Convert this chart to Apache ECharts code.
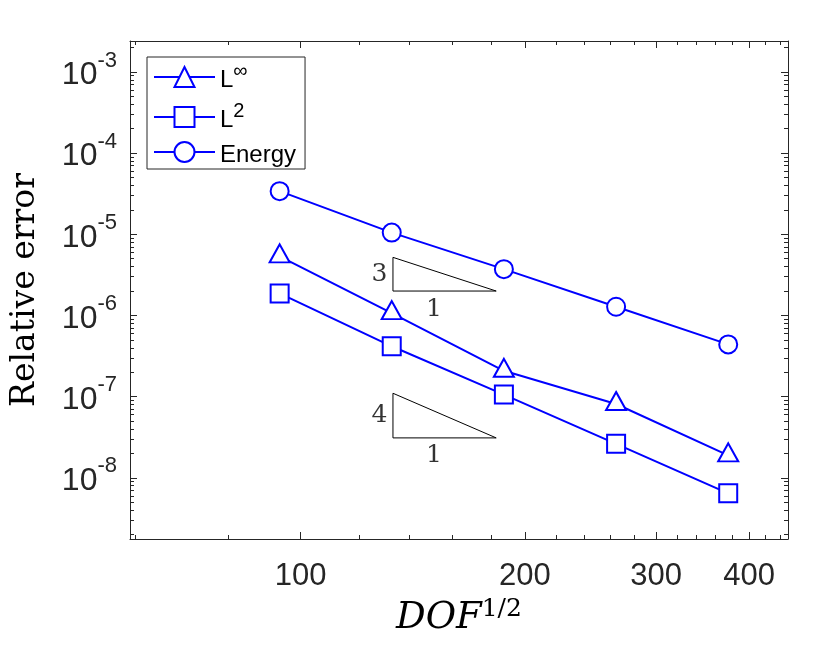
<!DOCTYPE html>
<html><head><meta charset="utf-8">
<script src="https://cdn.jsdelivr.net/npm/echarts@6/dist/echarts.min.js"></script>
<style>html,body{margin:0;padding:0;background:#fff}#c{width:831px;height:657px}</style>
</head><body><div id="c"></div>
<script>
// ---- data ----
const seriesNames = ['L∞', 'L2', 'Energy'];
const legendMain = ['L', 'L', 'Energy'];
const legendSup = ['∞', '2', ''];
const dofSqrt = [93.7, 132.5, 187.4, 265.1, 374.9];
const errLinf = [5.35e-6, 1.07e-6, 2.08e-7, 8.11e-8, 1.89e-8];
const errL2 = [1.87e-6, 4.17e-7, 1.06e-7, 2.62e-8, 6.43e-9];
const errEnergy = [3.40e-5, 1.05e-5, 3.72e-6, 1.28e-6, 4.40e-7];
const xTickLabels = [100, 200, 300, 400];
const xMinorTicks = [60, 80, 120, 140, 160, 180, 220, 240, 260, 280, 320, 340, 360, 380, 420, 440];
const yTickExponents = [-8, -7, -6, -5, -4, -3];
const yMinorMantissas = [2, 3, 4, 5, 6, 7, 8, 9];
const xLimits = [59, 451];
const yLimits = [1.76e-9, 2.41e-3];
const slope3X = [133, 183, 133, 133];
const slope3Y = [2.0e-6, 2.0e-6, 5.2e-6, 2.0e-6];
const slope4X = [133, 183, 133, 133];
const slope4Y = [3.1e-8, 3.1e-8, 1.1e-7, 3.1e-8];
const slopeLabelText = ['3', '1', '4', '1'];
const slopeLabelX = [133, 151, 133, 151];
const slopeLabelY = [3.22e-6, 2.0e-6, 5.87e-8, 3.1e-8];
const slopeLabelSide = ['left', 'bottom', 'left', 'bottom'];

// ---- build ----
const L10 = Math.log10;
const AX = '#262626';
const BLUE = '#0000ff';
const SANS = 'Liberation Sans, Arial, Helvetica, sans-serif';
const SERIF = 'DejaVu Serif, serif';
const xL = xLimits.map(L10), yL = yLimits.map(L10);
const xMajor = xTickLabels.map(L10);
const xMinor = xMinorTicks.map(L10);
const yMajor = yTickExponents.slice();
const yMinor = [];
for (let e = yTickExponents[0] - 1; e <= yTickExponents[yTickExponents.length - 1]; e++) {
  yMinorMantissas.forEach(m => {
    const v = m * Math.pow(10, e);
    if (v >= yLimits[0] && v <= yLimits[1]) yMinor.push(L10(v));
  });
}

function tickAxis(dim, pos, ticks, len, line, label) {
  const a = {
    type: 'value', position: pos, min: dim === 'x' ? xL[0] : yL[0], max: dim === 'x' ? xL[1] : yL[1],
    axisLine: { show: line, onZero: false, lineStyle: { color: AX, width: 1 } },
    axisTick: { show: true, inside: true, length: len, customValues: ticks, lineStyle: { color: AX, width: 1 } },
    axisLabel: { show: false },
    splitLine: { show: false }
  };
  if (label) a.axisLabel = label;
  return a;
}

const xLabel = {
  show: true, customValues: xMajor, margin: 22,
  formatter: v => String(Math.round(Math.pow(10, v))),
  fontFamily: SANS, fontSize: 31, color: AX
};
const yLabel = {
  show: true, customValues: yMajor, margin: 13, padding: [8, 0, 0, 0],
  formatter: v => '{b|10}{s|' + Math.round(v) + '}',
  rich: {
    b: { fontFamily: SANS, fontSize: 32, lineHeight: 31, color: AX, verticalAlign: 'bottom' },
    s: { fontFamily: SANS, fontSize: 22, lineHeight: 22, color: AX, padding: [0, 0, 20, 0], verticalAlign: 'bottom' }
  }
};

const xAxes = [
  { type: 'log', min: xLimits[0], max: xLimits[1], show: false, splitLine: { show: false } },
  Object.assign(tickAxis('x', 'bottom', xMajor, 7, true, xLabel), {
    name: '{i|DOF}{s|1/2}', nameLocation: 'middle', nameGap: 59,
    nameTextStyle: { rich: {
      i: { fontFamily: SERIF, fontStyle: 'italic', fontSize: 37, lineHeight: 38, color: '#000', verticalAlign: 'bottom' },
      s: { fontFamily: SERIF, fontSize: 25, lineHeight: 25, color: '#000', padding: [0, 0, 15, 0], verticalAlign: 'bottom' }
    } }
  }),
  tickAxis('x', 'bottom', xMinor, 4, false),
  tickAxis('x', 'top', xMajor, 7, true),
  tickAxis('x', 'top', xMinor, 4, false)
];
const yAxes = [
  { type: 'log', min: yLimits[0], max: yLimits[1], show: false, splitLine: { show: false } },
  Object.assign(tickAxis('y', 'left', yMajor, 7, true, yLabel), {
    name: 'Relative error', nameLocation: 'middle', nameGap: 88, nameRotate: 90,
    nameTextStyle: { fontFamily: SERIF, fontSize: 33, color: '#000' }
  }),
  tickAxis('y', 'left', yMinor, 4, false),
  tickAxis('y', 'right', yMajor, 7, true),
  tickAxis('y', 'right', yMinor, 4, false)
];

function dataSeries(name, vals, symbol, size, offset) {
  return {
    name: name, type: 'line', xAxisIndex: 0, yAxisIndex: 0, z: 5,
    data: dofSqrt.map((x, i) => [x, vals[i]]),
    symbol: symbol, symbolSize: size, symbolOffset: offset || [0, 0],
    showAllSymbol: true,
    lineStyle: { color: BLUE, width: 2 },
    itemStyle: { color: BLUE, borderColor: BLUE, borderWidth: 2 },
    emphasis: { disabled: true }, silent: true
  };
}
function slopeSeries(name, xs, ys) {
  return {
    name: name, type: 'line', xAxisIndex: 0, yAxisIndex: 0, z: 2,
    data: xs.map((x, i) => [x, ys[i]]), symbol: 'none',
    lineStyle: { color: '#000', width: 1 }, silent: true, emphasis: { disabled: true }
  };
}

const option = {
  animation: false,
  backgroundColor: '#fff',
  grid: { left: 130, right: 43, top: 41, bottom: 118, containLabel: false },
  xAxis: xAxes,
  yAxis: yAxes,
  legend: {
    data: seriesNames, orient: 'vertical', left: 147, top: 57,
    padding: [4, 9, 2, 6], itemGap: 9, itemWidth: 61, itemHeight: 25,
    borderColor: AX, borderWidth: 1, backgroundColor: '#fff', selectedMode: false,
    formatter: name => {
      const i = seriesNames.indexOf(name);
      return legendSup[i] ? '{m|' + legendMain[i] + '}{s|' + legendSup[i] + '}' : '{m|' + legendMain[i] + '}';
    },
    textStyle: {
      fontFamily: SANS, fontSize: 24, color: '#000',
      rich: {
        m: { fontFamily: SANS, fontSize: 24, lineHeight: 30, color: '#000', verticalAlign: 'bottom' },
        s: { fontFamily: SANS, fontSize: 20, lineHeight: 20, color: '#000', padding: [0, 0, 11, 0], verticalAlign: 'bottom' }
      }
    }
  },
  series: [
    dataSeries(seriesNames[0], errLinf, 'emptyTriangle', [20, 18], [0, -3]),
    dataSeries(seriesNames[1], errL2, 'emptyRect', 18),
    dataSeries(seriesNames[2], errEnergy, 'emptyCircle', 18),
    slopeSeries('slope3', slope3X, slope3Y),
    slopeSeries('slope4', slope4X, slope4Y),
    {
      name: 'slopeLabels', type: 'scatter', xAxisIndex: 0, yAxisIndex: 0, z: 3, silent: true,
      symbolSize: 1, itemStyle: { color: 'rgba(0,0,0,0)' },
      data: slopeLabelText.map((t, i) => ({ name: t, value: [slopeLabelX[i], slopeLabelY[i]], label: { position: slopeLabelSide[i] } })),
      label: { show: true, formatter: '{b}', fontFamily: SERIF, fontSize: 25, color: '#000', distance: 5 }
    }
  ]
};
const chart = echarts.init(document.getElementById('c'), null, { renderer: 'canvas' });
chart.setOption(option);
</script>
</body></html>
